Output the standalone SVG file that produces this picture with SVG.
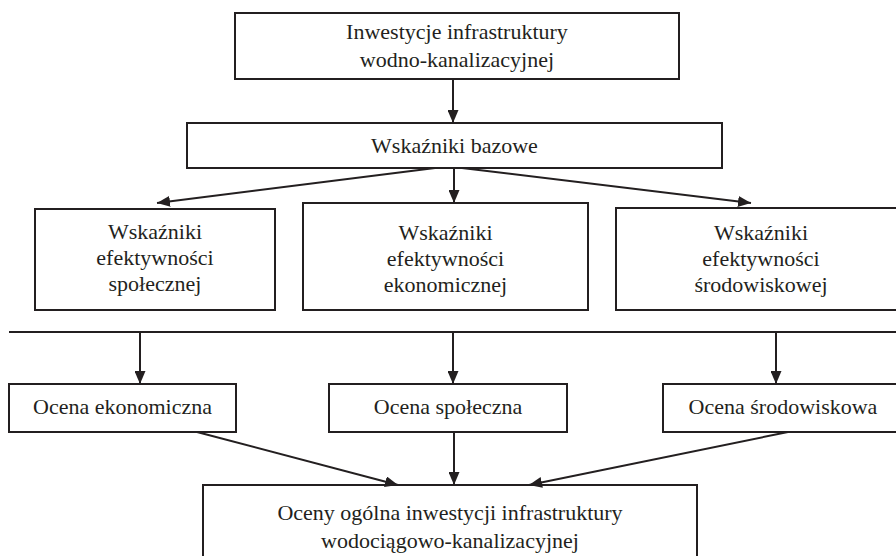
<svg xmlns="http://www.w3.org/2000/svg" width="896" height="556" viewBox="0 0 896 556">
<style>
.box{fill:#fff;stroke:#231f20;stroke-width:2}
.t{font-family:"Liberation Serif","Times New Roman",serif;font-size:22px;fill:#231f20;text-anchor:middle}
.c{fill:none;stroke:#231f20;stroke-width:2}
.a{marker-end:url(#arr)}
</style>
<defs>
<marker id="arr" markerUnits="userSpaceOnUse" markerWidth="13" markerHeight="11" refX="13" refY="5.5" orient="auto">
<path d="M0,0 L13,5.5 L0,11 z" fill="#231f20"/>
</marker>
</defs>
<rect width="896" height="556" fill="#fff"/>
<g id="n-inwestycje"><rect class="box" x="235" y="13" width="444" height="66"/>
<text class="t" x="457" y="39">Inwestycje infrastruktury</text>
<text class="t" x="457" y="67">wodno-kanalizacyjnej</text></g>
<g id="n-bazowe"><rect class="box" x="187" y="123" width="535" height="45"/>
<text class="t" x="454.5" y="153">Wskaźniki bazowe</text></g>
<g id="n-spol"><rect class="box" x="35" y="209" width="240" height="101"/>
<text class="t" x="155" y="239">Wskaźniki</text>
<text class="t" x="155" y="265">efektywności</text>
<text class="t" x="155" y="291">społecznej</text></g>
<g id="n-ekon"><rect class="box" x="303" y="203" width="285" height="107"/>
<text class="t" x="445.5" y="240">Wskaźniki</text>
<text class="t" x="445.5" y="266">efektywności</text>
<text class="t" x="445.5" y="292">ekonomicznej</text></g>
<g id="n-srod"><rect class="box" x="616" y="208" width="290" height="102"/>
<text class="t" x="761" y="240">Wskaźniki</text>
<text class="t" x="761" y="266">efektywności</text>
<text class="t" x="761" y="292">środowiskowej</text></g>
<g id="n-ocena-ekon"><rect class="box" x="9" y="384" width="227" height="48"/>
<text class="t" x="122.5" y="414">Ocena ekonomiczna</text></g>
<g id="n-ocena-spol"><rect class="box" x="329" y="384" width="238" height="48"/>
<text class="t" x="448" y="414">Ocena społeczna</text></g>
<g id="n-ocena-srod"><rect class="box" x="663" y="384" width="240" height="48"/>
<text class="t" x="783" y="414">Ocena środowiskowa</text></g>
<g id="n-ogolna"><rect class="box" x="203" y="485" width="494" height="90"/>
<text class="t" x="450" y="520">Oceny ogólna inwestycji infrastruktury</text>
<text class="t" x="450" y="548">wodociągowo-kanalizacyjnej</text></g>
<g id="connectors">
<line class="c a" x1="453" y1="79" x2="453" y2="123"/>
<line class="c a" x1="435" y1="168" x2="157" y2="203"/>
<line class="c a" x1="454" y1="168" x2="454" y2="203"/>
<line class="c a" x1="462" y1="168" x2="751" y2="203"/>
<line class="c" x1="9" y1="332" x2="896" y2="332"/>
<line class="c a" x1="140" y1="332" x2="140" y2="384"/>
<line class="c a" x1="453" y1="332" x2="453" y2="384"/>
<line class="c a" x1="776" y1="332" x2="776" y2="384"/>
<line class="c a" x1="197" y1="432" x2="398" y2="485"/>
<line class="c a" x1="454" y1="432" x2="454" y2="485"/>
<line class="c a" x1="788" y1="432" x2="529" y2="485"/>
</g>
</svg>
